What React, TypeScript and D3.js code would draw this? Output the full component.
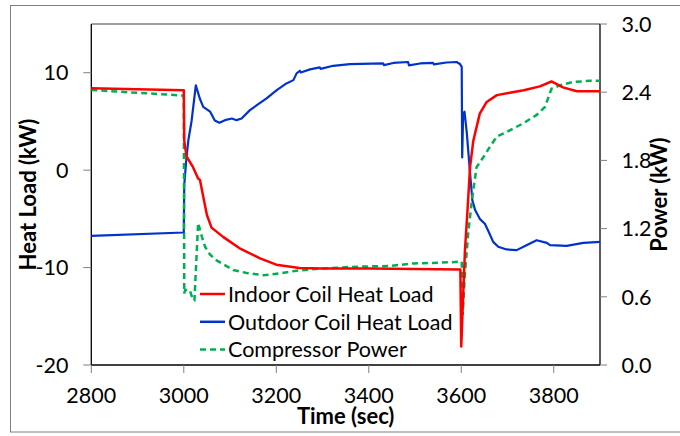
import React from "react";
import * as d3 from "d3";

// Time (sec) and values for each series
const indoorTime = [2800, 3000, 3001, 3006, 3020, 3031, 3035, 3042, 3050, 3060, 3085, 3120, 3165, 3200, 3250, 3300, 3400, 3500, 3598, 3600, 3603, 3608, 3613, 3619, 3626, 3640, 3655, 3677, 3705, 3735, 3770, 3795, 3820, 3850, 3900];
const indoorLoad = [8.4, 8.2, 3.0, 1.4, 0.3, -0.85, -1.0, -2.7, -4.6, -5.9, -6.85, -8.0, -9.05, -9.7, -10.05, -10.1, -10.1, -10.15, -10.2, -18.1, -14.2, -8.2, -4.5, 0.3, 3.0, 5.8, 7.0, 7.7, 7.95, 8.2, 8.6, 9.1, 8.5, 8.1, 8.1];

const outdoorTime = [2800, 3000, 3001, 3006, 3010, 3017, 3026, 3035, 3042, 3057, 3067, 3077, 3089, 3104, 3114, 3125, 3143, 3158, 3179, 3201, 3222, 3237, 3244, 3251, 3253, 3273, 3294, 3296, 3323, 3359, 3431, 3433, 3453, 3485, 3487, 3511, 3539, 3541, 3568, 3590, 3597, 3601, 3602, 3604, 3607, 3612, 3619, 3624, 3630, 3640, 3651, 3658, 3669, 3680, 3698, 3720, 3741, 3763, 3785, 3792, 3828, 3864, 3900];
const outdoorLoad = [-6.74, -6.4, -1.5, 1.4, 3.1, 5.1, 8.7, 7.3, 6.5, 6.0, 5.1, 4.86, 5.13, 5.3, 5.13, 5.3, 6.16, 6.67, 7.36, 8.21, 8.9, 9.24, 9.93, 10.2, 10.03, 10.34, 10.54, 10.4, 10.71, 10.88, 10.95, 10.78, 11.0, 11.1, 10.75, 10.95, 11.0, 10.85, 11.05, 11.1, 10.9, 10.6, 1.3, 5.6, 6.0, 3.8, -0.3, -3.1, -4.1, -5.0, -5.5, -6.2, -7.36, -7.87, -8.14, -8.21, -7.7, -7.19, -7.46, -7.7, -7.77, -7.46, -7.36];

const powerTime = [2800, 3000, 3001, 3003, 3013, 3020, 3023, 3031, 3039, 3046, 3057, 3071, 3107, 3136, 3172, 3208, 3244, 3302, 3374, 3446, 3496, 3554, 3600, 3601, 3603, 3608, 3615, 3623, 3633, 3648, 3662, 3677, 3698, 3734, 3763, 3781, 3795, 3813, 3842, 3878, 3900];
const compressorPower = [2.42, 2.37, 0.63, 0.66, 0.66, 0.57, 0.57, 1.25, 1.13, 1.04, 0.97, 0.92, 0.835, 0.81, 0.79, 0.806, 0.83, 0.85, 0.865, 0.871, 0.894, 0.9, 0.909, 0.909, 0.44, 0.806, 1.16, 1.45, 1.74, 1.83, 1.92, 2.01, 2.05, 2.126, 2.2, 2.27, 2.43, 2.46, 2.49, 2.5, 2.5];

const timeTicks = [2800, 3000, 3200, 3400, 3600, 3800];
const loadTicks = [-20, -10, 0, 10];
const powerTicks = [0, 0.6, 1.2, 1.8, 2.4, 3.0];

const seriesNames = ["Indoor Coil Heat Load", "Outdoor Coil Heat Load", "Compressor Power"];

const FONT = "Lato, 'Open Sans', sans-serif";

export default function App() {
  const left = 91.3;
  const right = 600;
  const top = 24;
  const bottom = 365;

  const x = d3.scaleLinear().domain([2800, 3900]).range([left, right]);
  const yLoad = d3.scaleLinear().domain([-20, 15]).range([bottom, top]);
  const yPower = d3.scaleLinear().domain([0, 3]).range([bottom, top]);

  const zip = (t: number[], v: number[]) => t.map((tt, i) => [tt, v[i]] as [number, number]);

  const loadLine = d3
    .line<[number, number]>()
    .x((d) => x(d[0]))
    .y((d) => yLoad(d[1]))
    .curve(d3.curveLinear);
  const powerLine = d3
    .line<[number, number]>()
    .x((d) => x(d[0]))
    .y((d) => yPower(d[1]))
    .curve(d3.curveLinear);

  const colors = ["#ff0000", "#0033cc", "#00b050"];

  return (
    <svg width={680} height={436} style={{ position: "absolute", left: 0, top: 0 }} fontFamily={FONT}>
      <rect x={0} y={0} width={680} height={436} fill="#fff" />
      {/* chart area frame */}
      <rect x={10.5} y={5.5} width={690} height={426.5} fill="none" stroke="#7f7f7f" strokeWidth={1} />

      {/* plot frame */}
      <line x1={left} x2={right} y1={top} y2={top} stroke="#404040" strokeWidth={1} />
      <line x1={left} x2={left} y1={top} y2={bottom} stroke="#000" strokeWidth={1.3} />
      <line x1={right} x2={right} y1={top} y2={bottom} stroke="#000" strokeWidth={1.3} />
      <line x1={left} x2={right} y1={bottom} y2={bottom} stroke="#000" strokeWidth={1.3} />

      {/* left axis */}
      {loadTicks.map((t) => (
        <g key={"l" + t}>
          <line x1={left - 8} x2={left} y1={yLoad(t)} y2={yLoad(t)} stroke="#808080" strokeWidth={1} />
          <text x={68.5} y={yLoad(t)} dy="0.36em" textAnchor="end" fontSize={21.5} fill="#000">
            {t}
          </text>
        </g>
      ))}
      {/* right axis */}
      {powerTicks.map((t) => (
        <g key={"r" + t}>
          <line x1={right} x2={right + 7} y1={yPower(t)} y2={yPower(t)} stroke="#808080" strokeWidth={1} />
          <text x={621.5} y={yPower(t)} dy="0.36em" textAnchor="start" fontSize={21.5} fill="#000">
            {t.toFixed(1)}
          </text>
        </g>
      ))}
      {/* bottom axis */}
      {timeTicks.map((t) => (
        <g key={"b" + t}>
          <line x1={x(t)} x2={x(t)} y1={bottom} y2={bottom + 8} stroke="#808080" strokeWidth={1} />
          <text x={x(t)} y={403} textAnchor="middle" fontSize={21.5} fill="#000">
            {t}
          </text>
        </g>
      ))}

      {/* axis titles */}
      <text
        transform={`translate(36,${(top + bottom) / 2}) rotate(-90)`}
        textAnchor="middle"
        fontSize={22}
        fontWeight="bold"
        fill="#000"
      >
        Heat Load (kW)
      </text>
      <text
        transform={`translate(667,${(top + bottom) / 2}) rotate(-90)`}
        textAnchor="middle"
        fontSize={22}
        fontWeight="bold"
        fill="#000"
      >
        Power (kW)
      </text>
      <text x={(left + right) / 2} y={424} textAnchor="middle" fontSize={22} fontWeight="bold" fill="#000">
        Time (sec)
      </text>

      {/* series */}
      <path d={loadLine(zip(outdoorTime, outdoorLoad)) || ""} fill="none" stroke={colors[1]} strokeWidth={2.2} strokeLinejoin="round" />
      <path d={powerLine(zip(powerTime, compressorPower)) || ""} fill="none" stroke={colors[2]} strokeWidth={2.5} strokeDasharray="6,4" />
      <path d={loadLine(zip(indoorTime, indoorLoad)) || ""} fill="none" stroke={colors[0]} strokeWidth={2.5} strokeLinejoin="round" />

      {/* legend */}
      {seriesNames.map((name, i) => {
        const ly = 294 + i * 27.8;
        return (
          <g key={name}>
            <line
              x1={200}
              x2={225}
              y1={ly}
              y2={ly}
              stroke={colors[i]}
              strokeWidth={2.5}
              strokeDasharray={i === 2 ? "6,4" : undefined}
            />
            <text x={228} y={ly} dy="0.36em" fontSize={21.5} fill="#000">
              {name}
            </text>
          </g>
        );
      })}
    </svg>
  );
}
